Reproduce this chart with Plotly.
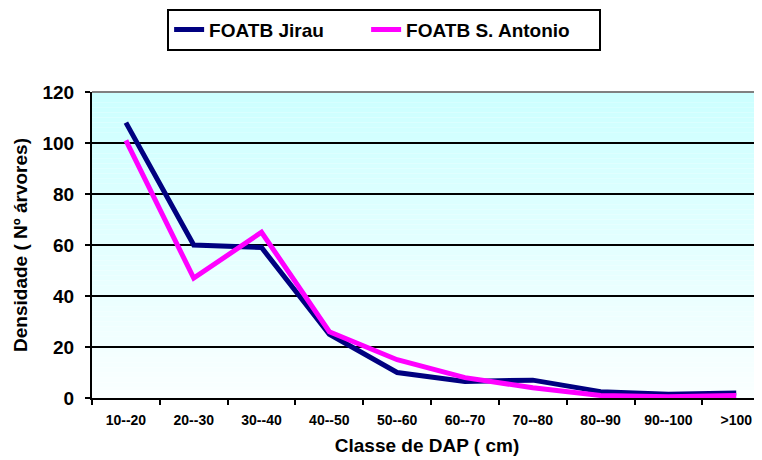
import plotly.graph_objects as go

categories = ["10--20", "20--30", "30--40", "40--50", "50--60",
              "60--70", "70--80", "80--90", "90--100", ">100"]
jirau = [108, 60, 59, 25, 10, 6.5, 7, 2.5, 1.5, 2]
santo_antonio = [101, 47, 65, 26, 15, 8, 4, 1, 0.5, 1]
y_ticks = [0, 20, 40, 60, 80, 100, 120]

FONT = "Arial, Liberation Sans, sans-serif"

fig = go.Figure()
fig.add_trace(go.Scatter(x=categories, y=jirau, mode="lines", name="FOATB Jirau",
                         line=dict(color="#000080", width=5), legendwidth=152))
fig.add_trace(go.Scatter(x=categories, y=santo_antonio, mode="lines", name="FOATB S. Antonio",
                         line=dict(color="#FF00FF", width=5), legendwidth=188))

# vertical gradient background (light cyan to near white)
n = 60
top = (204, 255, 255)
bot = (250, 255, 255)
shapes = []
for i in range(n):
    t = i / (n - 1)
    c = tuple(round(bot[k] + (top[k] - bot[k]) * t) for k in range(3))
    shapes.append(dict(type="rect", xref="paper", yref="y", x0=0, x1=1,
                       y0=120 * i / n, y1=120 * (i + 1) / n, layer="below",
                       line=dict(width=0), fillcolor="rgb(%d,%d,%d)" % c))
shapes.append(dict(type="line", xref="paper", yref="paper", x0=0, x1=1, y0=1, y1=1,
                   line=dict(color="#808080", width=2), layer="above"))

# page body has an 8px margin, so the figure is sized to end at the window edge
fig.update_layout(
    width=754, height=452,
    margin=dict(l=84, r=0, t=84, b=62, autoexpand=False),
    paper_bgcolor="white", plot_bgcolor="white",
    font=dict(family=FONT, color="black"),
    shapes=shapes,
    showlegend=True,
    legend=dict(orientation="h", x=0.436, xanchor="center", y=1.272, yanchor="top",
                bgcolor="white", bordercolor="black", borderwidth=2,
                font=dict(family=FONT, size=19, color="black", weight="bold"),
                itemwidth=30, tracegroupgap=0),
)
fig.update_xaxes(
    type="category", range=[-0.5, 9.38], automargin=False,
    showline=True, linecolor="black", linewidth=2,
    ticks="outside", tickson="boundaries", ticklen=5, tickwidth=2, tickcolor="black",
    tickfont=dict(family=FONT, size=14, color="black", weight="bold"),
    ticklabelstandoff=8,
    showgrid=False,
    title=dict(text="Classe de DAP ( cm)", standoff=12,
               font=dict(family=FONT, size=19, color="black", weight="bold")),
)
fig.update_yaxes(
    range=[0, 120], tickvals=y_ticks, automargin=False,
    showline=True, linecolor="black", linewidth=2,
    ticks="outside", ticklen=5, tickwidth=2, tickcolor="black",
    tickfont=dict(family=FONT, size=19, color="black", weight="bold"),
    ticklabelstandoff=7,
    showgrid=True, gridcolor="black", gridwidth=2,
    zeroline=False,
    title=dict(text="Densidade ( Nº árvores)", standoff=10,
               font=dict(family=FONT, size=19, color="black", weight="bold")),
)

fig.write_html("out.html")
